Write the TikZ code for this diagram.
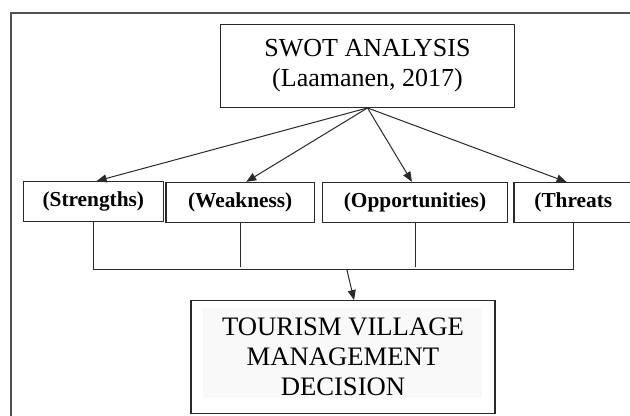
\documentclass[tikz,border=0pt]{standalone}
\usepackage{fontspec}
\setmainfont{Liberation Serif}
\usetikzlibrary{arrows.meta}
\definecolor{framegray}{HTML}{505050}
\definecolor{linegray}{HTML}{2A2A2A}
\tikzset{
  box/.style={draw=linegray, line width=0.9pt, inner sep=0pt, align=center, text=black},
  topbox/.style={box, font=\fontsize{19.5}{22.7}\selectfont, minimum width=220.2pt, minimum height=62pt},
  sbox/.style={box, font=\fontsize{16}{18}\selectfont\bfseries, minimum height=29.8pt},
  decbox/.style={box, font=\fontsize{20}{22.3}\selectfont, minimum width=228pt, minimum height=84.5pt},
  arr/.style={draw=linegray, line width=0.75pt, -{Triangle[length=7.5pt,width=6pt]}},
  conn/.style={draw=linegray, line width=0.75pt},
  frame/.style={draw=framegray, line width=1.5pt}
}
\begin{document}
\begin{tikzpicture}[x=0.75pt,y=-0.75pt]
\clip (0,0) rectangle (630,415);
\fill[white] (0,0) rectangle (630,415);
% outer frame (only left and top edges visible)
\draw[frame] (11,440) -- (11,13.3) -- (660,13.3);
% top box
\node[topbox] (swot) at (367.5,66) {SWOT ANALYSIS\\(Laamanen, 2017)};
% four boxes
\node[sbox, minimum width=105pt] (str) at (93.3,201.5) {(Strengths)};
\node[sbox, minimum width=111.2pt] (weak) at (240.2,202.3) {(Weakness)};
\node[sbox, minimum width=139pt] (opp) at (415,202.3) {(Opportunities)};
\node[sbox, minimum width=89pt] (thr) at (573.3,202.5) {(Threats};
% bottom box with faint inner shading
\fill[black!2.5] (203.3,307.7) rectangle (481.7,398.3);
\node[decbox] (dec) at (343,357) {TOURISM VILLAGE\\MANAGEMENT\\DECISION};
% arrows from top box
\draw[arr] (swot.south) -- ([xshift=2.5pt]str.north);
\draw[arr] (swot.south) -- ([xshift=4.5pt]weak.north);
\draw[arr] (swot.south) -- ([xshift=-2.3pt]opp.north);
\draw[arr] (swot.south) -- ([xshift=-5pt]thr.north);
% bus
\coordinate (busL) at (93,269);
\coordinate (busR) at (573.3,269);
\coordinate (busM) at (346.7,269);
\draw[conn] (str.south) -- (str.south |- busL) -- (busR) -- (thr.south);
\draw[conn] (weak.south) -- ([yshift=1.7pt]weak.south |- busL);
\draw[conn] (opp.south) -- ([yshift=1.7pt]opp.south |- busL);
\draw[arr] (busM) -- ([xshift=8.3pt]dec.north);
\end{tikzpicture}
\end{document}
